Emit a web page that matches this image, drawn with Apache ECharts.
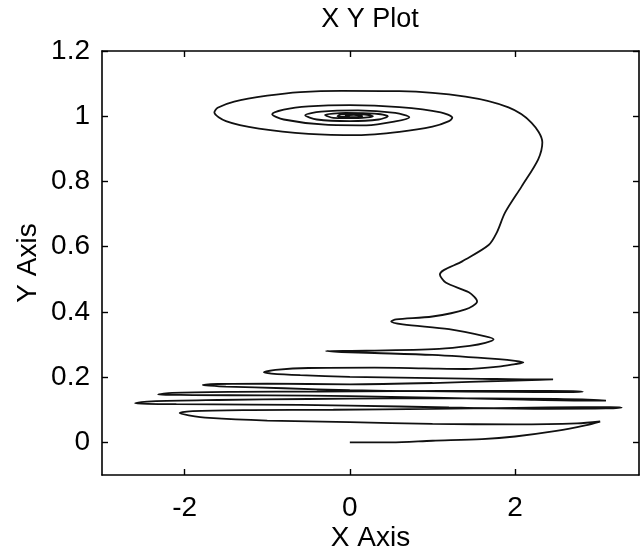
<!DOCTYPE html>
<html>
<head>
<meta charset="utf-8">
<script src="https://cdn.jsdelivr.net/npm/echarts@6/dist/echarts.min.js"></script>
<style>
  html, body { margin: 0; padding: 0; background: #fff; }
  #chart { width: 641px; height: 549px; }
</style>
</head>
<body>
<div id="chart"></div>
<script>
// tick labels
const xTicks = [-2, 0, 2]
const yTicks = [0, 0.2, 0.4, 0.6, 0.8, 1, 1.2]

// trajectory as [x, y]
const startRun = [
  [0, 0], [0.5, 0.0], [1.0, 0.005], [1.6, 0.01], [2.0, 0.018], [2.5, 0.035], [2.85, 0.052], [3.03, 0.064]
]

const lowerBand = [
  [2.75, 0.058], [2.0, 0.055], [1.0, 0.057], [0.0, 0.062], [-1.0, 0.067], [-1.7, 0.075], [-1.95, 0.083], [-2.06, 0.09],
  [-1.9, 0.096], [-1.2, 0.099], [-0.2, 0.1], [1.0, 0.103], [2.0, 0.106], [2.8, 0.108], [3.15, 0.108], [3.29, 0.107],
  [3.1, 0.104], [2.4, 0.103], [1.2, 0.107], [0.0, 0.113], [-1.2, 0.116], [-2.1, 0.117], [-2.45, 0.118], [-2.6, 0.12],
  [-2.4, 0.126], [-1.6, 0.13], [-0.5, 0.133], [0.5, 0.135], [1.6, 0.135], [2.5, 0.133], [2.95, 0.13], [3.1, 0.128],
  [2.9, 0.128], [2.1, 0.131], [1.0, 0.137], [0.0, 0.142], [-1.0, 0.144], [-1.9, 0.145], [-2.2, 0.146], [-2.32, 0.147],
  [-2.15, 0.152], [-1.4, 0.155], [-0.4, 0.156], [0.6, 0.157], [1.6, 0.158], [2.4, 0.158], [2.7, 0.157], [2.82, 0.155],
  [2.6, 0.154], [1.9, 0.155], [0.9, 0.157], [0.0, 0.16], [-0.8, 0.166], [-1.5, 0.171], [-1.7, 0.174], [-1.78, 0.176],
  [-1.6, 0.179], [-1.0, 0.18], [0.0, 0.178], [1.0, 0.182], [1.9, 0.189], [2.3, 0.192], [2.46, 0.193],
  [2.25, 0.193], [1.6, 0.195], [0.8, 0.198], [0.0, 0.201], [-0.6, 0.206], [-0.95, 0.211], [-1.04, 0.215],
  [-0.9, 0.222], [-0.5, 0.228], [0.3, 0.229], [0.9, 0.227], [1.4, 0.225], [1.8, 0.232], [2.0, 0.24], [2.1, 0.245],
  [2.0, 0.25], [1.8, 0.255], [1.0, 0.268], [0.3, 0.274], [-0.1, 0.277], [-0.29, 0.28]
]

const climb = [
  [0.2, 0.281], [1.08, 0.287], [1.45, 0.296], [1.64, 0.305], [1.74, 0.316],
  [1.64, 0.325], [1.2, 0.347], [0.64, 0.362], [0.5, 0.371],
  [0.56, 0.377], [1.0, 0.386], [1.4, 0.408], [1.54, 0.432],
  [1.44, 0.46], [1.16, 0.49], [1.09, 0.515],
  [1.36, 0.555], [1.68, 0.605], [1.78, 0.644], [1.88, 0.705], [2.08, 0.785], [2.28, 0.868],
  [2.33, 0.92], [2.2, 0.98], [1.92, 1.027], [1.4, 1.06], [0.6, 1.077]
]

const topSpiral = [
  [-0.1, 1.078], [-0.6, 1.074], [-1.0, 1.063], [-1.4, 1.045], [-1.6, 1.026], [-1.64, 1.012],
  [-1.5, 0.985], [-1.1, 0.962], [-0.5, 0.946], [0.1, 0.942], [0.6, 0.952], [1.0, 0.968], [1.2, 0.985], [1.24, 0.995],
  [1.1, 1.012], [0.6, 1.028], [0.0, 1.034], [-0.5, 1.03], [-0.8, 1.02], [-0.94, 1.006],
  [-0.8, 0.99], [-0.3, 0.974], [0.2, 0.972], [0.55, 0.984], [0.72, 0.997],
  [0.55, 1.01], [0.1, 1.018], [-0.35, 1.014], [-0.54, 1.003],
  [-0.4, 0.99], [0.0, 0.985], [0.35, 0.99], [0.46, 1.0],
  [0.3, 1.008], [-0.05, 1.01], [-0.3, 1.004], [-0.2, 0.995], [0.1, 0.994], [0.28, 1.0],
  [0.15, 1.006], [-0.1, 1.006], [-0.15, 1.0], [0.05, 0.997], [0.15, 1.0], [0.05, 1.004], [-0.05, 1.002], [0.0, 1.0]
]

const path = startRun.concat(lowerBand, climb, topSpiral)

const font = "'Liberation Sans', Arial, Helvetica, sans-serif"
const axisLine = { show: true, onZero: false, lineStyle: { color: '#000', width: 1.6 } }
const tickStyle = { color: '#000', width: 1.4 }

const chart = echarts.init(document.getElementById('chart'), null, { renderer: 'canvas' })
chart.setOption({
  animation: false,
  backgroundColor: '#fff',
  graphic: [
    {
      type: 'text',
      x: 370,
      y: 6,
      style: {
        text: 'X Y Plot',
        align: 'center',
        verticalAlign: 'top',
        fontSize: 27,
        fontFamily: font,
        fill: '#000'
      }
    }
  ],
  grid: {
    left: 102,
    right: 2,
    top: 51,
    bottom: 74,
    outerBoundsMode: 'none'
  },
  xAxis: [
    {
      type: 'value',
      min: -3,
      max: 3.5,
      position: 'bottom',
      axisLine: axisLine,
      axisTick: { inside: true, length: 6, customValues: xTicks, lineStyle: tickStyle },
      axisLabel: { customValues: xTicks, fontSize: 28, fontFamily: font, color: '#000', margin: 19 },
      splitLine: { show: false },
      name: 'X Axis',
      nameLocation: 'middle',
      nameGap: 49,
      nameMoveOverlap: false,
      nameTextStyle: { fontSize: 28, fontFamily: font, color: '#000' }
    },
    {
      type: 'value',
      min: -3,
      max: 3.5,
      position: 'top',
      axisLine: axisLine,
      axisTick: { inside: true, length: 6, customValues: xTicks, lineStyle: tickStyle },
      axisLabel: { show: false },
      splitLine: { show: false }
    }
  ],
  yAxis: [
    {
      type: 'value',
      min: -0.1,
      max: 1.2,
      position: 'left',
      axisLine: axisLine,
      axisTick: { inside: true, length: 6, customValues: yTicks, lineStyle: tickStyle },
      axisLabel: { customValues: yTicks, fontSize: 28, fontFamily: font, color: '#000', margin: 12 },
      splitLine: { show: false },
      name: 'Y Axis',
      nameLocation: 'middle',
      nameGap: 60,
      nameMoveOverlap: false,
      nameTextStyle: { fontSize: 28, fontFamily: font, color: '#000' }
    },
    {
      type: 'value',
      min: -0.1,
      max: 1.2,
      position: 'right',
      axisLine: axisLine,
      axisTick: { inside: true, length: 6, customValues: yTicks, lineStyle: tickStyle },
      axisLabel: { show: false },
      splitLine: { show: false }
    }
  ],
  series: [
    {
      name: 'xy',
      type: 'line',
      xAxisIndex: 0,
      yAxisIndex: 0,
      data: path,
      showSymbol: false,
      smooth: 0.3,
      lineStyle: { color: '#111', width: 1.8 }
    }
  ]
})
</script>
</body>
</html>
